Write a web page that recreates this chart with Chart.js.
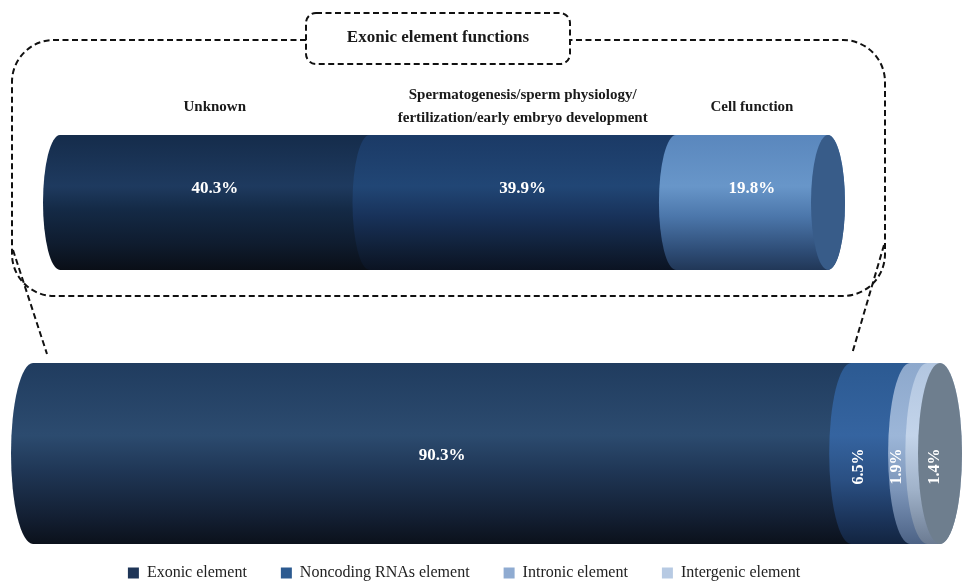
<!DOCTYPE html>
<html><head><meta charset="utf-8">
<script src="https://cdn.jsdelivr.net/npm/chart.js@4.4.1/dist/chart.umd.min.js"></script>
<style>
html,body{margin:0;padding:0;background:#fff;overflow:hidden;width:965px;height:582px;}
#wrap{position:relative;width:965px;height:582px;overflow:hidden;background:#fff;}
canvas{position:absolute;top:0;}
#cTop{left:0;}
#cBot{left:-12px;}
</style></head><body>
<div id="wrap">
<canvas id="cBot" width="977" height="591"></canvas>
<canvas id="cTop" width="965" height="582"></canvas>
</div>
<script>
// ---- data ----
const TITLE = 'Exonic element functions';
const FUNCTION_CATEGORIES = ['Unknown', ['Spermatogenesis/sperm physiology/', 'fertilization/early embryo development'], 'Cell function'];
const FUNCTION_VALUES = [40.3, 39.9, 19.8];
const ELEMENT_CATEGORIES = ['Exonic element', 'Noncoding RNAs element', 'Intronic element', 'Intergenic element'];
const ELEMENT_VALUES = [90.3, 6.5, 1.9, 1.4];

// ---- styles ----
const SERIF = "'Liberation Serif', 'Times New Roman', serif";
const FUNCTION_SHADES = [
  [[0,'#152c4b'],[0.38,'#1e3a5f'],[0.55,'#142a46'],[0.8,'#0f1c2f'],[1,'#0a0f17']],
  [[0,'#1b3a66'],[0.38,'#214675'],[0.6,'#18325a'],[0.85,'#101f36'],[1,'#0b1322']],
  [[0,'#5a87bd'],[0.38,'#6896c9'],[0.6,'#4c77ab'],[0.85,'#2f4e78'],[1,'#213757']]
];
const FUNCTION_CAP = '#385c89';
const ELEMENT_SHADES = [
  [[0,'#203c5f'],[0.4,'#2c4b6f'],[0.6,'#1f3655'],[0.85,'#131f33'],[1,'#0b111b']],
  [[0,'#2c5a92'],[0.4,'#3564a0'],[0.65,'#2a4f82'],[0.88,'#1a3257'],[1,'#122440']],
  [[0,'#8da8cc'],[0.4,'#9cb6d8'],[0.7,'#7c95b9'],[1,'#4c6285']],
  [[0,'#b2c6e0'],[0.4,'#c3d4ea'],[0.7,'#a0b2c9'],[1,'#6b7b92']]
];
const ELEMENT_CAP = '#6e7e8e';
const LEGEND_COLORS = ['#1e3557', '#2c5a90', '#8fabd1', '#b7cae3'];

const sum = a => a.reduce((p, c) => p + c, 0);

const cylinderPlugin = {
  id: 'cylinder',
  beforeDatasetsDraw(chart, args, opts) {
    const ctx = chart.ctx;
    const segs = chart.data.datasets.map((ds, i) => {
      const el = chart.getDatasetMeta(i).data[0];
      const p = el.getProps(['x', 'base', 'y', 'height'], true);
      return { xs: Math.min(p.x, p.base), xe: Math.max(p.x, p.base), cy: p.y, h: p.height, i, v: ds.data[0], label: ds.label };
    });
    const rx = opts.rx;
    ctx.save();
    segs.forEach(s => {
      const top = s.cy - s.h / 2, bot = s.cy + s.h / 2, ry = s.h / 2;
      const g = ctx.createLinearGradient(0, top, 0, bot);
      opts.shades[s.i].forEach(([o, c]) => g.addColorStop(o, c));
      ctx.fillStyle = g;
      ctx.beginPath();
      ctx.moveTo(s.xs, top);
      ctx.lineTo(s.xe, top);
      ctx.ellipse(s.xe, s.cy, rx, ry, 0, -Math.PI / 2, Math.PI / 2, false);
      ctx.lineTo(s.xs, bot);
      ctx.ellipse(s.xs, s.cy, rx, ry, 0, Math.PI / 2, Math.PI * 1.5, false);
      ctx.closePath();
      ctx.fill();
    });
    const last = segs[segs.length - 1];
    ctx.fillStyle = opts.cap;
    ctx.beginPath();
    ctx.ellipse(last.xe, last.cy, rx, last.h / 2, 0, 0, Math.PI * 2);
    ctx.fill();

    // value labels
    ctx.fillStyle = '#ffffff';
    ctx.textAlign = 'center';
    ctx.textBaseline = 'middle';
    segs.forEach((s, k) => {
      const txt = s.v.toFixed(1) + '%';
      const w = s.xe - s.xs;
      if (w > 60) {
        ctx.font = 'bold 17px ' + SERIF;
        ctx.fillText(txt, (s.xs + s.xe) / 2, s.cy + opts.labelDy);
      } else {
        ctx.font = 'bold 16px ' + SERIF;
        const x = (k === segs.length - 1) ? s.xe - rx * 0.25 : (s.xs + s.xe) / 2 - rx;
        ctx.save();
        ctx.translate(x, s.cy + opts.rotDy);
        ctx.rotate(-Math.PI / 2);
        ctx.fillText(txt, 0, 0);
        ctx.restore();
      }
    });

    // category labels above the bar
    if (opts.categoryLabels) {
      ctx.fillStyle = '#1a1a1a';
      ctx.font = 'bold 15px ' + SERIF;
      segs.forEach(s => {
        const lines = Array.isArray(s.label) ? s.label : [s.label];
        const top = s.cy - s.h / 2;
        const lh = 23;
        const y0 = top - 28 - (lines.length - 1) * lh / 2;
        lines.forEach((ln, j) => ctx.fillText(ln, (s.xs + s.xe) / 2, y0 + j * lh));
      });
    }
    ctx.restore();
    return false;
  }
};

const decorPlugin = {
  id: 'decor',
  afterDraw(chart) {
    const ctx = chart.ctx;
    ctx.save();
    ctx.strokeStyle = '#111';
    ctx.lineWidth = 2;
    ctx.setLineDash([6, 3.5]);
    // title box
    ctx.beginPath();
    ctx.roundRect(306, 13, 264, 51, 10);
    ctx.stroke();
    // big callout box
    ctx.beginPath();
    ctx.moveTo(306, 40);
    ctx.arcTo(12, 40, 12, 296, 42);
    ctx.arcTo(12, 296, 885, 296, 42);
    ctx.arcTo(885, 296, 885, 40, 42);
    ctx.arcTo(885, 40, 570, 40, 42);
    ctx.lineTo(570, 40);
    ctx.stroke();
    // connectors
    ctx.beginPath();
    ctx.moveTo(13, 250); ctx.lineTo(47, 354);
    ctx.moveTo(884, 245); ctx.lineTo(852, 354);
    ctx.stroke();
    ctx.setLineDash([]);
    // title
    ctx.fillStyle = '#1a1a1a';
    ctx.font = 'bold 17px ' + SERIF;
    ctx.textAlign = 'center';
    ctx.textBaseline = 'middle';
    ctx.fillText(TITLE, 438, 38);
    ctx.restore();
  }
};

// ---- top chart: exonic element functions ----
new Chart(document.getElementById('cTop'), {
  type: 'bar',
  data: {
    labels: [''],
    datasets: FUNCTION_CATEGORIES.map((c, i) => ({
      label: c, data: [FUNCTION_VALUES[i]], backgroundColor: FUNCTION_SHADES[i][0][1],
      borderWidth: 0, barPercentage: 1, categoryPercentage: 1
    }))
  },
  options: {
    indexAxis: 'y', responsive: false, animation: false, devicePixelRatio: 1,
    layout: { padding: { left: 60, right: 137, top: 135, bottom: 312 } },
    scales: {
      x: { display: false, stacked: true, min: 0, max: sum(FUNCTION_VALUES) },
      y: { display: false, stacked: true }
    },
    plugins: {
      legend: { display: false }, tooltip: { enabled: false },
      cylinder: { rx: 17, shades: FUNCTION_SHADES, cap: FUNCTION_CAP, labelDy: -14, rotDy: 0, categoryLabels: true }
    }
  },
  plugins: [cylinderPlugin, decorPlugin]
});

// ---- bottom chart: genomic elements ----
new Chart(document.getElementById('cBot'), {
  type: 'bar',
  data: {
    labels: [''],
    datasets: ELEMENT_CATEGORIES.map((c, i) => ({
      label: c, data: [ELEMENT_VALUES[i]], backgroundColor: LEGEND_COLORS[i],
      borderWidth: 0, barThickness: 181
    }))
  },
  options: {
    indexAxis: 'y', responsive: false, animation: false, devicePixelRatio: 1,
    layout: { padding: { left: 0, right: 25, top: 376, bottom: 0 } },
    scales: {
      x: { display: false, stacked: true, min: 0, max: sum(ELEMENT_VALUES) },
      y: {
        display: true, stacked: true, position: 'left',
        grid: { display: false }, border: { display: false }, ticks: { display: false },
        afterFit(s) { s.width = 45; }
      }
    },
    plugins: {
      tooltip: { enabled: false },
      legend: {
        display: true, position: 'bottom',
        labels: { boxWidth: 11, boxHeight: 11, padding: 34, color: '#222', font: { family: SERIF, size: 16 } }
      },
      cylinder: { rx: 22, shades: ELEMENT_SHADES, cap: ELEMENT_CAP, labelDy: 2, rotDy: 13, categoryLabels: false }
    }
  },
  plugins: [cylinderPlugin]
});
</script>
</body></html>
